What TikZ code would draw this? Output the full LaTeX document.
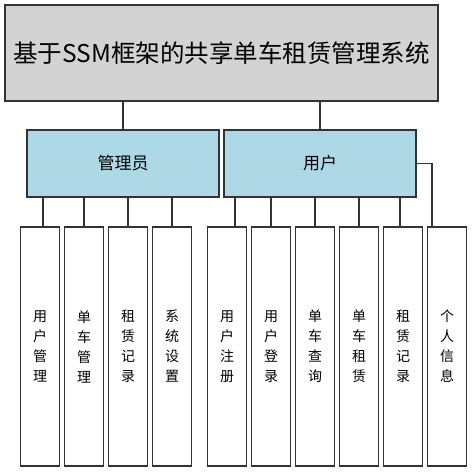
\documentclass[tikz,border=0pt]{standalone}
\usepackage{fontspec}
\setmainfont{Noto Sans CJK SC}
\definecolor{edge}{HTML}{333333}
\definecolor{topfill}{HTML}{D3D3D3}
\definecolor{midfill}{HTML}{ADD8E6}
\begin{document}
\begin{tikzpicture}[x=1pt,y=-1pt,
  box/.style={draw=edge,line width=1.4pt,rectangle,inner sep=0pt},
  topbox/.style={box,fill=topfill,minimum width=433pt,minimum height=96pt,font=\fontsize{24.5}{28}\selectfont},
  midbox/.style={box,fill=midfill,minimum width=192pt,minimum height=67pt,font=\fontsize{17}{20}\selectfont},
  leaf/.style={box,fill=white,minimum width=38.6pt,minimum height=239pt,align=center,font=\fontsize{14}{20}\selectfont},
  conn/.style={draw=edge,line width=1.5pt}]
\useasboundingbox (0,0) rectangle (471,473);
\node[topbox] (top) at (221.5,53) {基于SSM框架的共享单车租赁管理系统};
\node[midbox] (adm) at (123,163.5) {管理员};
\node[midbox] (usr) at (320,163.5) {用户};
\node[leaf] (l1) at (40,346.5) {用\\户\\管\\理};
\node[leaf] (l2) at (84,346.5) {单\\车\\管\\理};
\node[leaf] (l3) at (128,346.5) {租\\赁\\记\\录};
\node[leaf] (l4) at (172,346.5) {系\\统\\设\\置};
\node[leaf] (l5) at (227,346.5) {用\\户\\注\\册};
\node[leaf] (l6) at (271,346.5) {用\\户\\登\\录};
\node[leaf] (l7) at (315,346.5) {单\\车\\查\\询};
\node[leaf] (l8) at (359,346.5) {单\\车\\租\\赁};
\node[leaf] (l9) at (403,346.5) {租\\赁\\记\\录};
\node[leaf] (l10) at (447,346.5) {个\\人\\信\\息};
\draw[conn] (adm.north) -- (adm.north |- top.south);
\draw[conn] (usr.north) -- (usr.north |- top.south);
\draw[conn] ([xshift=3pt]l1.north) -- ([xshift=3pt]l1.north |- adm.south);
\draw[conn] (l2.north) -- (l2.north |- adm.south);
\draw[conn] (l3.north) -- (l3.north |- adm.south);
\draw[conn] (l4.north) -- (l4.north |- adm.south);
\draw[conn] ([xshift=8pt]l5.north) -- ([xshift=8pt]l5.north |- usr.south);
\draw[conn] (l6.north) -- (l6.north |- usr.south);
\draw[conn] (l7.north) -- (l7.north |- usr.south);
\draw[conn] (l8.north) -- (l8.north |- usr.south);
\draw[conn] ([xshift=-3pt]l9.north) -- ([xshift=-3pt]l9.north |- usr.south);
\draw[conn] (usr.east) -- ([xshift=-15pt]l10.north |- usr.east) -- ([xshift=-15pt]l10.north);
\end{tikzpicture}
\end{document}
